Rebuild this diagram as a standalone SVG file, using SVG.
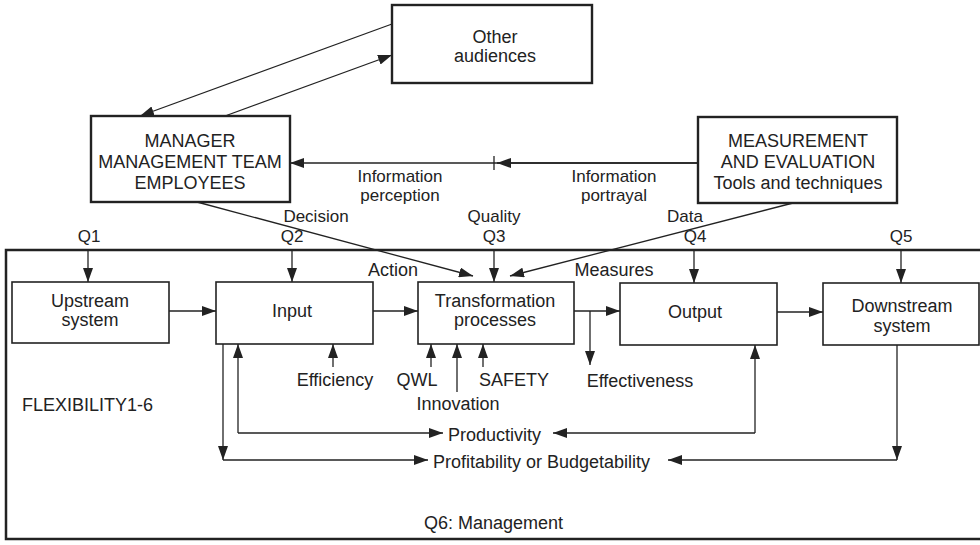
<svg xmlns="http://www.w3.org/2000/svg" width="980" height="545" viewBox="0 0 980 545">
<defs>
<marker id="ah" viewBox="0 0 14 10" refX="14" refY="5" markerWidth="14" markerHeight="10" markerUnits="userSpaceOnUse" orient="auto">
<path d="M0,0 L14,5 L0,10 z" fill="#222"/>
</marker>
<style>
text{font-family:"Liberation Sans",Arial,sans-serif;font-size:18px;fill:#222}
.c{text-anchor:middle}
.s{font-size:17px}
.bx{fill:#fff;stroke:#222;stroke-width:1.6}
.bb{fill:#fff;stroke:#222;stroke-width:2.4}
.ln{fill:none;stroke:#222;stroke-width:1.3}
.ar{fill:none;stroke:#222;stroke-width:1.3;marker-end:url(#ah)}
</style>
</defs>
<rect width="980" height="545" fill="#fff"/>
<rect x="6" y="250" width="985" height="289" fill="none" stroke="#222" stroke-width="2.5"/>
<g id="connectors">
<line class="ar" x1="392" y1="24" x2="140" y2="116"/>
<line class="ar" x1="225" y1="116" x2="392" y2="55"/>
<line class="ar" x1="698" y1="163" x2="290" y2="163"/>
<line class="ar" x1="698" y1="163" x2="497" y2="163"/>
<line class="ln" x1="494" y1="156" x2="494" y2="170"/>
<line class="ar" x1="197" y1="202" x2="473" y2="276"/>
<line class="ar" x1="793" y1="203" x2="510" y2="276"/>
<line class="ar" x1="88" y1="250" x2="88" y2="282"/>
<line class="ar" x1="292" y1="250" x2="292" y2="282"/>
<line class="ar" x1="494" y1="250" x2="494" y2="282"/>
<line class="ar" x1="694" y1="250" x2="694" y2="283"/>
<line class="ar" x1="901" y1="250" x2="901" y2="283"/>
<line class="ar" x1="169" y1="311" x2="216" y2="311"/>
<line class="ar" x1="373" y1="311" x2="418" y2="311"/>
<line class="ar" x1="574" y1="311" x2="620" y2="311"/>
<line class="ar" x1="777" y1="312" x2="823" y2="312"/>
<line class="ar" x1="590" y1="311" x2="590" y2="365"/>
<line class="ar" x1="333" y1="367" x2="333" y2="344"/>
<line class="ar" x1="431" y1="367" x2="431" y2="344"/>
<line class="ar" x1="457" y1="392" x2="457" y2="344"/>
<line class="ar" x1="483" y1="367" x2="483" y2="344"/>
<path class="ar" d="M238,433 V344"/>
<path class="ar" d="M238,433 H443"/>
<path class="ar" d="M755,433 V345"/>
<path class="ar" d="M755,433 H553"/>
<path class="ar" d="M223,344 V460"/>
<path class="ar" d="M223,460 H428"/>
<path class="ar" d="M897,345 V460"/>
<path class="ar" d="M897,460 H668"/>
</g>
<g id="other-audiences">
<rect class="bb" x="392" y="5" width="200" height="78"/>
<text class="c" x="495" y="43">Other</text>
<text class="c" x="495" y="62">audiences</text>
</g>
<g id="manager">
<rect class="bb" x="91" y="116" width="199" height="86"/>
<text class="c" x="190" y="147">MANAGER</text>
<text class="c" x="190" y="168">MANAGEMENT TEAM</text>
<text class="c" x="190" y="189">EMPLOYEES</text>
</g>
<g id="measurement">
<rect class="bb" x="698" y="117" width="199" height="86"/>
<text class="c" x="798" y="147">MEASUREMENT</text>
<text class="c" x="798" y="168">AND EVALUATION</text>
<text class="c" x="798" y="189">Tools and techniques</text>
</g>
<g id="upstream">
<rect class="bx" x="12" y="282" width="157" height="61"/>
<text class="c" x="90" y="307">Upstream</text>
<text class="c" x="90" y="326">system</text>
</g>
<g id="input">
<rect class="bx" x="216" y="282" width="157" height="62"/>
<text class="c" x="292" y="317">Input</text>
</g>
<g id="transformation">
<rect class="bx" x="418" y="282" width="156" height="62"/>
<text class="c" x="495" y="307">Transformation</text>
<text class="c" x="495" y="326">processes</text>
</g>
<g id="output">
<rect class="bx" x="620" y="283" width="157" height="62"/>
<text class="c" x="695" y="318">Output</text>
</g>
<g id="downstream">
<rect class="bx" x="823" y="283" width="156" height="62"/>
<text class="c" x="902" y="312">Downstream</text>
<text class="c" x="902" y="332">system</text>
</g>
<g id="labels">
<text class="c s" x="400" y="182">Information</text>
<text class="c s" x="400" y="201">perception</text>
<text class="c s" x="614" y="182">Information</text>
<text class="c s" x="614" y="201">portrayal</text>
<text class="c s" x="316" y="222">Decision</text>
<text class="c s" x="494" y="222">Quality</text>
<text class="c s" x="685" y="222">Data</text>
<text class="c s" x="89" y="242">Q1</text>
<text class="c s" x="292" y="242">Q2</text>
<text class="c s" x="494" y="242">Q3</text>
<text class="c s" x="695" y="242">Q4</text>
<text class="c s" x="901" y="242">Q5</text>
<text class="c" x="393" y="276">Action</text>
<text class="c" x="614" y="276">Measures</text>
<text class="c" x="335" y="386">Efficiency</text>
<text class="c" x="417" y="386">QWL</text>
<text class="c" x="514" y="386">SAFETY</text>
<text class="c" x="458" y="410">Innovation</text>
<text class="c" x="640" y="387">Effectiveness</text>
<text x="22" y="411">FLEXIBILITY1-6</text>
<text x="448" y="441">Productivity</text>
<text x="433" y="468">Profitability or Budgetability</text>
<text x="424" y="529">Q6: Management</text>
</g>
</svg>
